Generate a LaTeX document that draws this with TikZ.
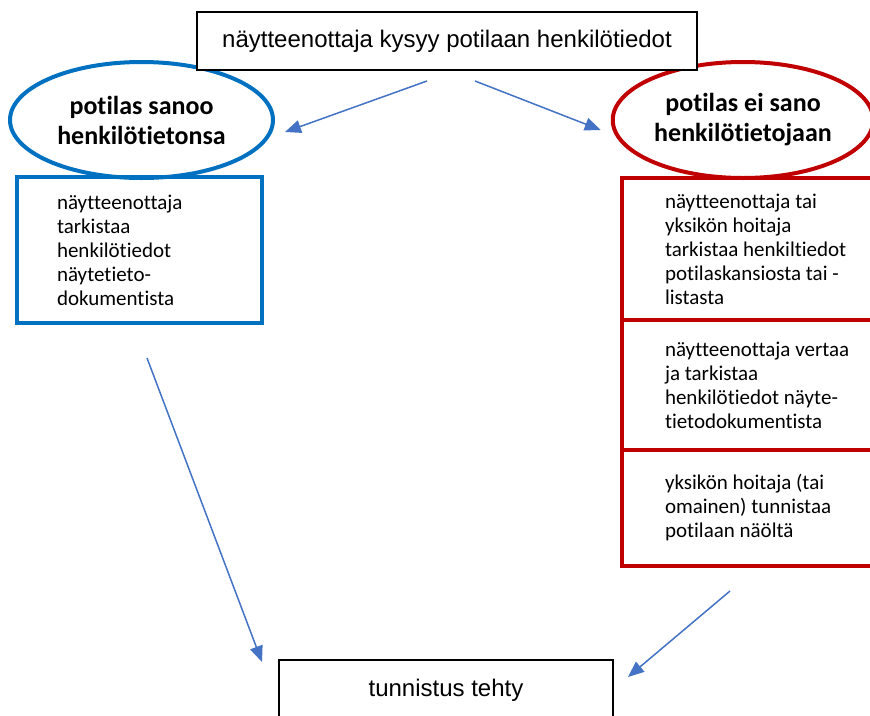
\documentclass[tikz,border=0pt]{standalone}
\usepackage{fontspec}
\setmainfont{Liberation Sans}
\newfontfamily\calfont{Carlito}[Ligatures=NoCommon]
\definecolor{frameblue}{RGB}{0,112,192}
\definecolor{framered}{RGB}{192,0,0}
\definecolor{arrowblue}{RGB}{68,114,196}
\usetikzlibrary{arrows.meta, positioning, shapes.geometric}

\begin{document}
\begin{tikzpicture}[
    x=1pt, y=-1pt,
    every node/.style={font=\calfont\fontsize{21}{24}\selectfont},
    askbox/.style={rectangle, draw=black, line width=2pt, fill=white, minimum width=500pt, minimum height=58pt, font=\fontsize{24}{29}\selectfont},
    choice/.style={ellipse, line width=4pt, minimum width=263pt, minimum height=116pt, align=flush center, font=\calfont\bfseries\fontsize{26}{30}\selectfont},
    bluebox/.style={rectangle, draw=frameblue, line width=4pt, text width=165pt, align=flush left, minimum width=245pt, minimum height=146pt},
    redbox/.style={rectangle, draw=framered, line width=4pt, text width=200pt, align=flush left, minimum width=286pt, outer sep=0pt},
    flow/.style={-{Triangle[length=16pt, width=13pt]}, line width=1.5pt, arrowblue}
]
\useasboundingbox (0,0) rectangle (870,715);

% alkukysymys ja kaksi haaraa
\node[choice, draw=frameblue] (lell) at (141.5,120) {potilas sanoo\\henkilötietonsa};
\node[choice, draw=framered, minimum width=250pt] (rell) at (743,120) {potilas ei sano\\henkilötietojaan};
\node[askbox] (ask) at (447,41) {näytteenottaja kysyy potilaan henkilötiedot};

% tarkistukset
\node[bluebox] (lbox) at (139.5,250) {näytteenottaja\\tarkistaa\\henkilötiedot\\näytetieto-\\dokumentista};
\node[redbox, minimum height=142pt] (rb1) at (765,249) {näytteenottaja tai\\yksikön hoitaja\\tarkistaa henkiltiedot\\potilaskansiosta tai -\\listasta};
\node[redbox, minimum height=130pt, below=0pt of rb1] (rb2) {näytteenottaja vertaa\\ja tarkistaa\\henkilötiedot näyte-\\tietodokumentista};
\node[redbox, minimum height=116pt, below=0pt of rb2] (rb3) {yksikön hoitaja (tai\\omainen) tunnistaa\\potilaan näöltä};

% lopputulos
\node[askbox, minimum width=334pt, minimum height=60pt] (done) at (446,690) {tunnistus tehty};

\draw[flow] ([shift={(-20,10)}]ask.south) -- ([shift={(10,12)}]lell.east);
\draw[flow] ([shift={(28,10)}]ask.south) -- ([shift={(-10,10)}]rell.west);
\draw[flow] ([shift={(7.5,33)}]lbox.south) -- ([shift={(-16,3)}]done.north west);
\draw[flow] ([shift={(-35,25)}]rb3.south) -- ([shift={(14,-13)}]done.east);
\end{tikzpicture}
\end{document}
